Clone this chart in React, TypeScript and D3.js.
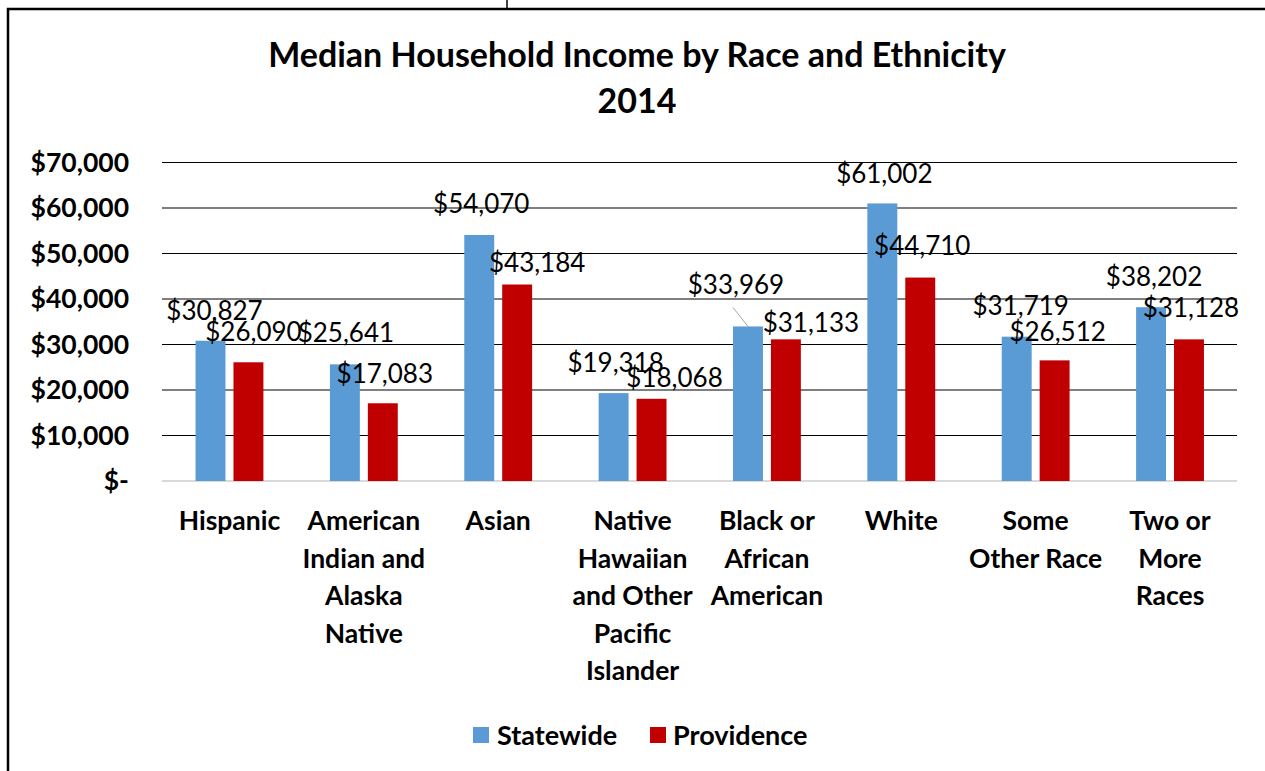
import * as d3 from "d3";

const categories = [
  ["Hispanic"],
  ["American", "Indian and", "Alaska", "Native"],
  ["Asian"],
  ["Native", "Hawaiian", "and Other", "Pacific", "Islander"],
  ["Black or", "African", "American"],
  ["White"],
  ["Some", "Other Race"],
  ["Two or", "More", "Races"],
];
const statewide = [30827, 25641, 54070, 19318, 33969, 61002, 31719, 38202];
const providence = [26090, 17083, 43184, 18068, 31133, 44710, 26512, 31128];
const seriesNames = ["Statewide", "Providence"];
const yTicks = [0, 10000, 20000, 30000, 40000, 50000, 60000, 70000];

// label nudges (Excel had some labels dragged around)
const statewideShift = [[4, -21], [1, -22], [2, -22], [2, -21], [-12, -32], [2, -20], [4, -22], [3, -21]];
const providenceShift = [[5, -21], [2, -20], [20, -13], [23, -12], [25, -7], [2, -23], [3, -19], [2, -22]];

const W = 1265;
const H = 771;
const colors = ["#5b9bd5", "#c00000"];
const font = "Lato, 'Open Sans', sans-serif";

export default function App() {
  const x = d3.scaleBand<number>()
    .domain(d3.range(categories.length))
    .range([162.3, 1237.2])
    .paddingInner(0.495)
    .paddingOuter(0.2475);
  const x1 = d3.scaleBand<string>()
    .domain(seriesNames)
    .range([0, x.bandwidth()])
    .paddingInner(8 / 38);
  const y = d3.scaleLinear().domain([0, 70000]).range([481, 162.5]);
  const fmt = d3.format("$,");

  const series = [statewide, providence];
  const shifts = [statewideShift, providenceShift];

  return (
    <svg width={W} height={H} style={{ position: "absolute", left: 0, top: 0, background: "#fff" }}
      fontFamily={font}>
      {/* frame */}
      <rect x={8} y={9} width={W + 10} height={H + 10} fill="none" stroke="#000" strokeWidth={2.5} />
      <line x1={507} x2={507} y1={0} y2={9} stroke="#000" strokeWidth={1.5} />

      <text x={637} y={67} textAnchor="middle" fontWeight="bold" fontSize={34}>
        Median Household Income by Race and Ethnicity
      </text>
      <text x={637} y={113} textAnchor="middle" fontWeight="bold" fontSize={34}>2014</text>

      {/* grid + y axis */}
      {yTicks.map(t => (
        <g key={t}>
          {t > 0 && <line x1={162} x2={1237} y1={y(t)} y2={y(t)} stroke="#000" strokeWidth={1.2} />}
          <text x={129} y={y(t)} dy="0.35em" textAnchor="end" fontWeight="bold" fontSize={26.5}>
            {t === 0 ? "$-" : fmt(t)}
          </text>
        </g>
      ))}
      <line x1={162} x2={1237} y1={y(0)} y2={y(0)} stroke="#d9d9d9" strokeWidth={2} />

      {/* bars */}
      {series.map((vals, s) => (
        <g key={s} fill={colors[s]}>
          {vals.map((v, i) => (
            <rect key={i} x={x(i)! + x1(seriesNames[s])!} y={y(v)} width={x1.bandwidth()}
              height={y(0) - y(v)} />
          ))}
        </g>
      ))}

      {/* data labels */}
      {series.map((vals, s) => (
        <g key={s} fontSize={26}>
          {vals.map((v, i) => {
            const cx = x(i)! + x1(seriesNames[s])! + x1.bandwidth() / 2;
            const [dx, dy] = shifts[s][i];
            const lx = cx + dx;
            const ly = y(v) + dy;
            return (
              <g key={i}>
                {dy < -25 && (
                  <line x1={lx - 3} y1={ly + 13} x2={cx} y2={y(v)} stroke="#a6a6a6" strokeWidth={1} />
                )}
                <text x={lx} y={ly} textAnchor="middle">{fmt(v)}</text>
              </g>
            );
          })}
        </g>
      ))}

      {/* category labels */}
      {categories.map((lines, i) => (
        <text key={i} x={x(i)! + x.bandwidth() / 2} y={530} textAnchor="middle" fontWeight="bold" fontSize={26.5}>
          {lines.map((l, j) => (
            <tspan key={j} x={x(i)! + x.bandwidth() / 2} dy={j === 0 ? 0 : 37.5}>{l}</tspan>
          ))}
        </text>
      ))}

      {/* legend */}
      <rect x={473} y={727} width={16} height={16} fill={colors[0]} />
      <text x={497} y={745} fontWeight="bold" fontSize={27}>{seriesNames[0]}</text>
      <rect x={650} y={727} width={16} height={16} fill={colors[1]} />
      <text x={673} y={745} fontWeight="bold" fontSize={27}>{seriesNames[1]}</text>
    </svg>
  );
}
